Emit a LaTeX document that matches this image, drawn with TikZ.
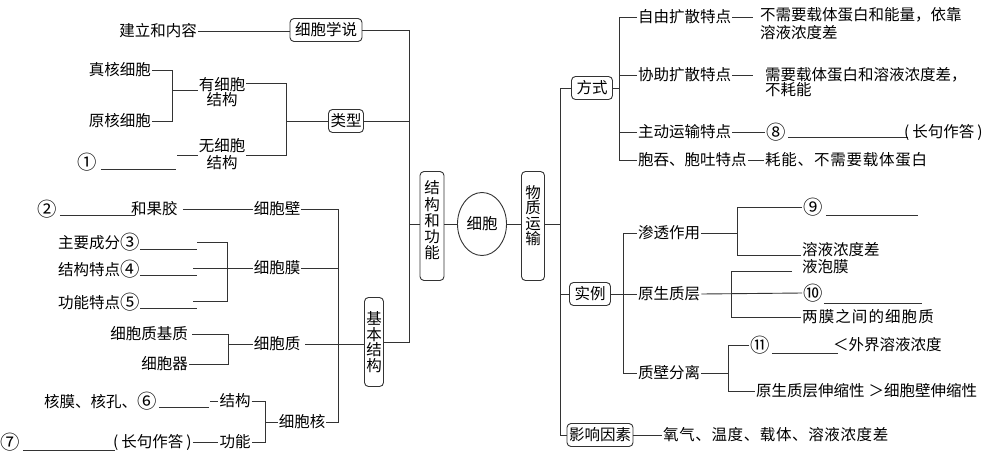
\documentclass[tikz,border=0pt]{standalone}
\usepackage{fontspec}
\usepackage{graphicx}
\setmainfont{Noto Sans CJK SC}
\usetikzlibrary{shapes.geometric,calc}
\newcommand\myfs{\fontsize{15.5}{17}\selectfont}
\newcommand\cnum[1]{\raisebox{-0.6pt}{\scalebox{1.25}{#1}}}
\begin{document}
\begin{tikzpicture}[x=1pt,y=-1pt,
  every node/.style={inner sep=1pt,font=\myfs},
  ln/.style={line width=0.9pt,draw=black!80},
  ul/.style={line width=0.8pt,draw=black!80},
  rbox/.style={draw=black!80,line width=0.9pt,rounded corners=4pt,inner xsep=2pt,inner ysep=2pt,minimum height=23pt},
  vbox/.style={draw=black!80,line width=0.9pt,rounded corners=4pt,inner sep=0pt,align=center},
  wide/.style={font=\myfs\addfontfeature{LetterSpace=#1}}
]
\path[use as bounding box] (0,0) rectangle (990,458);

% ---------- centre ----------
\node[ellipse,draw=black!80,line width=0.9pt,minimum width=49pt,minimum height=63pt,inner sep=0pt] (xb) at (482,224) {细胞};
\node[vbox,minimum width=24pt,minimum height=109pt,font=\fontsize{15.5}{16.25}\selectfont] (jg) at (432,226) {结\\构\\和\\功\\能\\[-4pt]\mbox{}};
\node[vbox,minimum width=23pt,minimum height=109pt,font=\fontsize{15.5}{15.3}\selectfont] (wz) at (533,226) {物\\质\\运\\输\\[6.7pt]\mbox{}};
\draw[ln] (xb.west) -- (xb.west -| jg.east);
\draw[ln] (xb.east) -- (xb.east -| wz.west);

% ---------- left trunk ----------
\node[rbox,minimum width=72pt] (xbxs) at (326,30) {细胞学说};
\node[rbox,minimum width=34pt] (lx) at (346,121) {类型};
\node[vbox,minimum width=19pt,minimum height=89pt,font=\fontsize{15.5}{15.5}\selectfont] (jbjg) at (374,342) {基\\本\\结\\构};
\coordinate (tLt) at (409,30);
\coordinate (tLb) at (409,342);
\draw[ln] (xbxs.east) -- (tLt) -- (tLb) -- (jbjg.east);
\draw[ln] (lx.east) -- (lx.east -| tLt);
\draw[ln] (jg.west |- xb.west) -- (tLt |- xb.west);

% 细胞学说
\node[anchor=east] (jlnr) at (198,31) {建立和内容};
\draw[ln] (jlnr.east) -- (jlnr.east -| xbxs.west);

% 类型
\node[align=center,font=\fontsize{15.5}{15}\selectfont] (ysb) at (222,92) {有细胞\\结构};
\node[align=center,font=\fontsize{15.5}{17}\selectfont] (wsb) at (222,154) {无细胞\\结构};
\node[anchor=east] (zh) at (152,70) {真核细胞};
\node[anchor=east] (yh) at (152,121) {原核细胞};
\coordinate (k1a) at (172,70);
\coordinate (k1b) at (172,121);
\coordinate (k1) at (172,90);
\draw[ln] (zh.east) -- (k1a) -- (k1b) -- (yh.east);
\draw[ln] (k1) -- (k1 -| ysb.west);
\coordinate (k2a) at (286,83);
\coordinate (k2b) at (286,155);
\coordinate (k2) at (286,121);
\draw[ln] (ysb.east |- k2a) -- (k2a) -- (k2b) -- (wsb.east |- k2b);
\draw[ln] (k2) -- (lx.west);
\node (c1) at (87,162) {\cnum{①}};
\draw[ul] ($(c1.east)+(3,7)$) -- ++(75,0);
\coordinate (d1) at (177,155);
\draw[ln] (d1) -- (wsb.west |- d1);

% 基本结构
\node (xbb) at (277,209) {细胞壁};
\node (xbm) at (277,268) {细胞膜};
\node (xbz) at (277,344) {细胞质};
\node (xbh) at (302,422) {细胞核};
\coordinate (tBt) at (338,209);
\coordinate (tBb) at (338,422);
\draw[ln] (xbb.east) -- (tBt) -- (tBb) -- (xbh.east);
\draw[ln] (xbm.east) -- (xbm.east -| tBt);
\draw[ln] ($(xbz.east)+(4,0)$) -- (xbz.east -| jbjg.west);

% 细胞壁
\node[anchor=west] (c2) at (36,209) {\cnum{②}};
\draw[ul] ($(c2.east)+(2,6)$) -- ++(75,0);
\node[anchor=west] (hgj) at (130,209) {和果胶};
\draw[ln] ($(hgj.east)+(4,0)$) -- (xbb.west);

% 细胞膜
\node[anchor=west] (zycf) at (57,242) {主要成分\cnum{③}};
\node[anchor=west] (jgtd) at (57,269) {结构特点\cnum{④}};
\node[anchor=west] (gntd) at (57,302) {功能特点\cnum{⑤}};
\draw[ul] ($(zycf.east)+(-1,7)$) -- ++(57,0);
\draw[ul] ($(jgtd.east)+(-1,6)$) -- ++(57,0);
\draw[ul] ($(gntd.east)+(-1,6)$) -- ++(57,0);
\coordinate (mt) at (197,242);
\coordinate (m1) at (227,242);
\coordinate (m2) at (227,301);
\coordinate (mb) at (193,301);
\coordinate (mm) at (193,268);
\draw[ln] (mt) -- (m1) -- (m2) -- (mb);
\draw[ln] (mm) -- (xbm.west);

% 细胞质
\node[anchor=east] (jz) at (189,334) {细胞质基质};
\node[anchor=east] (qg) at (189,364) {细胞器};
\coordinate (z1) at (228,334);
\coordinate (z2) at (228,364);
\coordinate (z0) at (228,344);
\draw[ln] ($(jz.east)+(3,0)$) -- (z1) -- (z2) -- (qg.east);
\draw[ln] (z0) -- (xbz.west);

% 细胞核
\node (jgn) at (235,401) {结构};
\node (gnn) at (235,442) {功能};
\coordinate (h1) at (265,401);
\coordinate (h2) at (265,442);
\coordinate (h0) at (265,422);
\draw[ln] (jgn.east) -- (h1) -- (h2) -- (gnn.east);
\draw[ln] (h0) -- (xbh.west);
\node[anchor=west] (hm) at (43,401) {核膜、核孔、\cnum{⑥}};
\draw[ul] ($(hm.east)+(1,6)$) -- ++(50,0);
\draw[ln] ($(hm.east)+(52,0)$) -- (jgn.west);
\node (c7) at (10,442) {\cnum{⑦}};
\draw[ul] ($(c7.east)+(2,8)$) -- ++(92,0);
\node[anchor=west] (cj7) at (112,442) {(\hspace{3pt}长句作答\hspace{3pt})};
\draw[ln] (cj7.east) -- (gnn.west);

% ---------- right trunk ----------
\coordinate (tRt) at (560,88);
\coordinate (tRb) at (560,435);
\node[rbox,minimum width=41pt] (fs) at (592,88) {方式};
\node[rbox,minimum width=41pt] (sl) at (590,294) {实例};
\node[rbox,minimum width=66pt] (yx) at (600,435) {影响因素};
\draw[ln] (fs.west) -- (tRt) -- (tRb) -- (yx.west);
\draw[ln] (sl.west) -- (sl.west -| tRt);
\draw[ln] (xb.east -| wz.east) -- (xb.east -| tRt);

% 方式
\coordinate (s1) at (619,17);
\coordinate (s2) at (619,160);
\node[anchor=west] (zy) at (637,17) {自由扩散特点};
\node[anchor=west] (xz) at (637,75) {协助扩散特点};
\node[anchor=west] (zd) at (637,132) {主动运输特点};
\node[anchor=west] (bt) at (637,160) {胞吞、胞吐特点};
\draw[ln] (zy.west) -- (s1) -- (s2) -- (bt.west);
\draw[ln] (xz.west) -- (xz.west -| s1);
\draw[ln] (zd.west) -- (zd.west -| s1);
\draw[ln] (fs.east) -- (fs.east -| s1);
\node[anchor=west,align=left,font=\fontsize{15.5}{18}\selectfont] (zyd) at (759,24) {不需要载体蛋白和能量，依靠\\溶液浓度差};
\coordinate (e1) at (753,17);
\draw[ln] (zy.east) -- (e1);
\node[anchor=west,align=left,font=\fontsize{15.5}{15}\selectfont] (xzd) at (764,82) {需要载体蛋白和溶液浓度差，\\不耗能};
\coordinate (e2) at (753,75);
\draw[ln] (xz.east) -- (e2);
\node[anchor=west] (c8) at (765,132) {\cnum{⑧}};
\draw[ln] (zd.east) -- (c8.west);
\draw[ul] ($(c8.east)+(1,5)$) -- ++(120,0);
\node[anchor=west] (cj8) at (903,132) {(\hspace{3pt}长句作答\hspace{3pt})};
\node[anchor=west,wide=5] (btd) at (764,160) {耗能、不需要载体蛋白};
\draw[ln] (bt.east) -- (btd.west);

% 实例
\coordinate (u1) at (623,233);
\coordinate (u2) at (623,373);
\node[anchor=west] (st) at (637,233) {渗透作用};
\node[anchor=west] (yszc) at (637,294) {原生质层};
\node[anchor=west] (zbfl) at (637,373) {质壁分离};
\draw[ln] (st.west) -- (u1) -- (u2) -- (zbfl.west);
\draw[ln] (sl.east) -- (yszc.west);

% 渗透作用
\coordinate (p1) at (737,207);
\coordinate (p2) at (737,255);
\coordinate (p0) at (737,233);
\coordinate (p3) at (801,255);
\draw[ln] (st.east) -- (p0);
\node[anchor=west] (c9) at (802,207) {\cnum{⑨}};
\draw[ln] (c9.west) -- (p1) -- (p2) -- (p3);
\draw[ul] ($(c9.east)+(2,8)$) -- ++(92,0);
\node[anchor=west] (rynd) at (801,250) {溶液浓度差};
\node[anchor=west] (ypm) at (801,267) {液泡膜};

% 原生质层
\coordinate (q3) at (792,271);
\coordinate (q1) at (731,271);
\coordinate (q2) at (731,317);
\node[anchor=west,wide=7] (lmzj) at (801,317) {两膜之间的细胞质};
\draw[ln] (q3) -- (q1) -- (q2) -- (lmzj.west);
\node[anchor=west] (c10) at (802,293) {\cnum{⑩}};
\draw[ln] (yszc.east) -- (c10.west);
\draw[ul] ($(c10.east)+(0,10)$) -- ++(98,0);

% 质壁分离
\coordinate (r1) at (728,345);
\coordinate (r2) at (728,391);
\coordinate (r0) at (728,373);
\draw[ln] (zbfl.east) -- (r0);
\node[anchor=west] (c11) at (749,345) {\cnum{⑪}};
\node[anchor=west] (ss) at (755,391) {原生质层伸缩性\hspace{4pt}＞细胞壁伸缩性};
\draw[ln] (c11.west) -- (r1) -- (r2) -- (ss.west);
\draw[ul] ($(c11.east)+(1,8)$) -- ++(66,0);
\node[anchor=west] (wj) at (832,345) {＜外界溶液浓度};

% 影响因素
\node[anchor=west,wide=4] (ys) at (662,435) {氧气、温度、载体、溶液浓度差};
\draw[ln] (yx.east) -- (ys.west);
\end{tikzpicture}
\end{document}
